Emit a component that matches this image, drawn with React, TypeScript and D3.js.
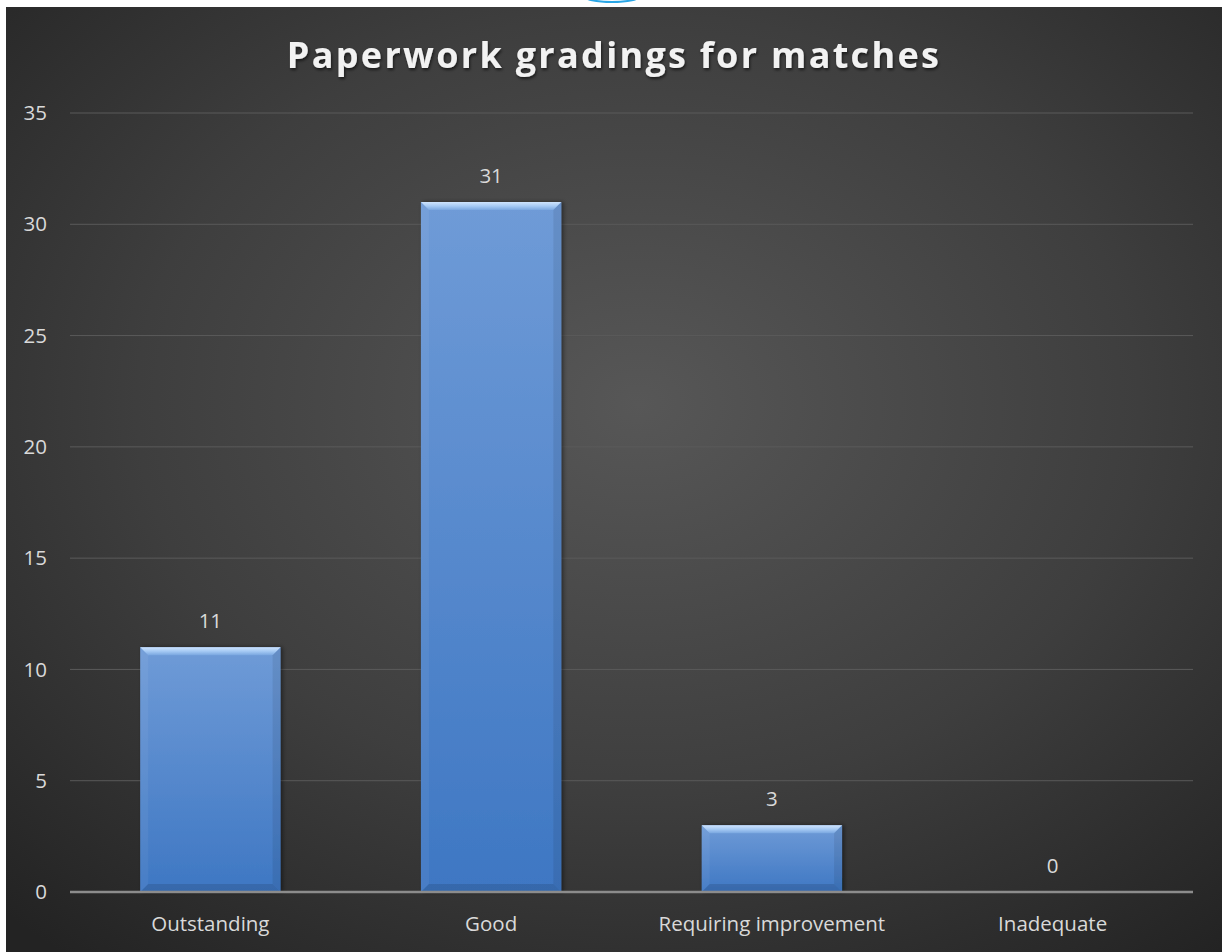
import React from "react";
import * as d3 from "d3";

const categories = ["Outstanding", "Good", "Requiring improvement", "Inadequate"];
const values = [11, 31, 3, 0];
const yTicks = [0, 5, 10, 15, 20, 25, 30, 35];
const title = "Paperwork gradings for matches";

const W = 1222;
const H = 952;
const plot = { left: 70, right: 1193, top: 113, bottom: 892 };

export default function App() {
  const x = d3
    .scaleBand<string>()
    .domain(categories)
    .range([plot.left, plot.right])
    .paddingInner(0.5)
    .paddingOuter(0.25);
  const y = d3.scaleLinear().domain([0, 35]).range([plot.bottom, plot.top]);
  const font = "'Open Sans', 'DejaVu Sans', sans-serif";
  const b = 8;
  const fs = 20.5;

  return (
    <svg
      width={W}
      height={H}
      style={{ position: "absolute", left: 0, top: 0, display: "block" }}
    >
      <defs>
        <radialGradient id="bg" cx="0.52" cy="0.42" r="0.75">
          <stop offset="0" stopColor="#575757" />
          <stop offset="0.55" stopColor="#3e3e3e" />
          <stop offset="1" stopColor="#232323" />
        </radialGradient>
        <linearGradient id="barFill" x1="0" y1="0" x2="0" y2="1">
          <stop offset="0" stopColor="#6f9bd7" />
          <stop offset="1" stopColor="#3e77c3" />
        </linearGradient>
        <linearGradient id="bevelTop" x1="0" y1="0" x2="0" y2="1">
          <stop offset="0" stopColor="#cfe4fd" />
          <stop offset="0.5" stopColor="#a6caf4" />
          <stop offset="1" stopColor="#7aa7e0" />
        </linearGradient>
        <filter id="tshadow" x="-5%" y="-20%" width="110%" height="150%">
          <feDropShadow dx="1" dy="2" stdDeviation="1.5" floodColor="#000" floodOpacity="0.6" />
        </filter>
        <filter id="bshadow" x="-10%" y="-5%" width="120%" height="110%">
          <feDropShadow dx="2" dy="0" stdDeviation="2" floodColor="#000" floodOpacity="0.45" />
        </filter>
      </defs>
      <rect x={0} y={0} width={W} height={H} fill="#ffffff" />
      <ellipse cx={612} cy={-4} rx={28} ry={6} fill="none" stroke="#2aa6e6" strokeWidth={2} />
      <rect x={6} y={7} width={W - 6} height={H - 7} fill="url(#bg)" />

      <text
        x={614}
        y={68}
        textAnchor="middle"
        fontFamily={font}
        fontWeight={700}
        fontSize={36}
        letterSpacing={2.3}
        fill="#f2f2f2"
        filter="url(#tshadow)"
      >
        {title}
      </text>

      {yTicks.map((t) => (
        <g key={t}>
          {t > 0 && (
            <line
              x1={plot.left}
              x2={plot.right}
              y1={y(t)}
              y2={y(t)}
              stroke="#5a5a5a"
              strokeWidth={1}
            />
          )}
          <text
            x={47}
            y={y(t)}
            dy="0.35em"
            textAnchor="end"
            fontFamily={font}
            fontSize={fs}
            fill="#d9d9d9"
          >
            {t}
          </text>
        </g>
      ))}

      {categories.map((c, i) => {
        const v = values[i];
        const x0 = x(c)!;
        const x1 = x0 + x.bandwidth();
        const y0 = y(v);
        const y1 = y(0);
        const h = y1 - y0;
        return (
          <g key={c}>
            {h > 0 && (
              <g filter="url(#bshadow)">
                <rect x={x0} y={y0} width={x1 - x0} height={h} fill="url(#barFill)" />
                <polygon
                  points={`${x0},${y0} ${x1},${y0} ${x1 - b},${y0 + b} ${x0 + b},${y0 + b}`}
                  fill="url(#bevelTop)"
                />
                <polygon
                  points={`${x0},${y0} ${x0 + b},${y0 + b} ${x0 + b},${y1 - b} ${x0},${y1}`}
                  fill="#ffffff"
                  opacity={0.05}
                />
                <polygon
                  points={`${x1},${y0} ${x1 - b},${y0 + b} ${x1 - b},${y1 - b} ${x1},${y1}`}
                  fill="#000000"
                  opacity={0.08}
                />
                <polygon
                  points={`${x0},${y1} ${x0 + b},${y1 - b} ${x1 - b},${y1 - b} ${x1},${y1}`}
                  fill="#000000"
                  opacity={0.12}
                />
              </g>
            )}
            <text
              x={(x0 + x1) / 2}
              y={y0 - 19}
              textAnchor="middle"
              fontFamily={font}
              fontSize={fs}
              fill="#d9d9d9"
            >
              {v}
            </text>
            <text
              x={(x0 + x1) / 2}
              y={931}
              textAnchor="middle"
              fontFamily={font}
              fontSize={fs}
              fill="#d9d9d9"
            >
              {c}
            </text>
          </g>
        );
      })}

      <line
        x1={plot.left}
        x2={plot.right}
        y1={plot.bottom}
        y2={plot.bottom}
        stroke="#8c8c8c"
        strokeWidth={2.5}
      />
    </svg>
  );
}
